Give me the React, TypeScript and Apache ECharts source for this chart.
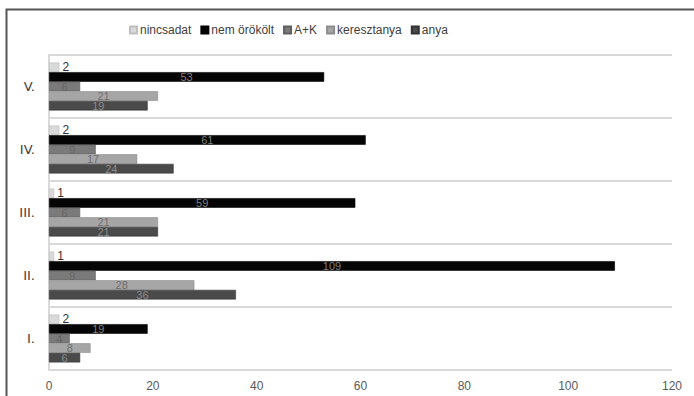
import React, { useEffect, useRef } from "react";
import * as echarts from "echarts";

const categories = ["I.", "II.", "III.", "IV.", "V."];
const xTicks = [0, 20, 40, 60, 80, 100, 120];
const nincsadat = [2, 1, 1, 2, 2];
const nemOrokolt = [19, 109, 59, 61, 53];
const aPlusK = [4, 9, 6, 9, 6];
const keresztanya = [8, 28, 21, 17, 21];
const anya = [6, 36, 21, 24, 19];

const legendOrder = ["nincsadat", "nem örökölt", "A+K", "keresztanya", "anya"];

export default function App() {
  const ref = useRef<HTMLDivElement>(null);
  useEffect(() => {
    if (!ref.current) return;
    const chart = echarts.init(ref.current, undefined, { renderer: "svg" });
    const font = "'Liberation Sans', Arial, sans-serif";
    const inside = (color: string) => ({
      show: true,
      position: "inside" as const,
      color,
      fontSize: 11,
      lineHeight: 9,
      fontFamily: font,
      textBorderWidth: 0,
      textBorderColor: "transparent",
    });
    const mk = (name: string, data: number[], color: string, border: string, label: any) => ({
      type: "bar" as const,
      name,
      data,
      barGap: "0%",
      barCategoryGap: "24%",
      itemStyle: { color, borderColor: border, borderWidth: 0.6 },
      label,
    });
    chart.setOption({
      animation: false,
      textStyle: { fontFamily: font },
      graphic: [
        {
          type: "rect",
          shape: { x: 6.5, y: 9.5, width: 900, height: 600 },
          style: { fill: "none", stroke: "#555", lineWidth: 2 },
          silent: true,
        },
      ],
      legend: {
        data: legendOrder,
        top: 19,
        left: 124,
        itemWidth: 7,
        itemHeight: 7,
        itemGap: 9,
        icon: "rect",
        textStyle: { color: "#404040", fontSize: 12, fontFamily: font, padding: [0, 0, 0, -2] },
      },
      grid: { left: 49, right: 22, top: 55, bottom: 26 },
      xAxis: {
        type: "value",
        min: xTicks[0],
        max: xTicks[xTicks.length - 1],
        interval: 20,
        axisLine: { show: false },
        axisTick: { show: false },
        splitLine: { show: false },
        axisLabel: { color: "#595959", fontSize: 12, fontFamily: font, margin: 10 },
      },
      yAxis: {
        type: "category",
        data: categories,
        axisLine: { show: true, lineStyle: { color: "#d9d9d9", width: 2 } },
        axisTick: { show: false },
        splitLine: { show: true, lineStyle: { color: "#d9d9d9", width: 2 } },
        axisLabel: {
          color: "#404040",
          fontSize: 13,
          fontFamily: "'DejaVu Sans', Verdana, sans-serif",
          margin: 14,
        },
      },
      series: [
        mk("nincsadat", nincsadat, "#d9d9d9", "#bfbfbf", {
          show: true,
          position: "right",
          distance: 3,
          color: "#333",
          fontSize: 12,
          lineHeight: 9,
          fontFamily: font,
          textBorderWidth: 0,
        }),
        mk("nem örökölt", nemOrokolt, "#050505", "#000", inside("#7f7f7f")),
        mk("A+K", aPlusK, "#7a7a7a", "#5f5f5f", inside("#666666")),
        mk("keresztanya", keresztanya, "#a6a6a6", "#8c8c8c", inside("#6e6e6e")),
        mk("anya", anya, "#4a4a4a", "#333", inside("#8a8a8a")),
      ],
    });
    return () => chart.dispose();
  }, []);
  return (
    <div
      ref={ref}
      style={{ position: "fixed", left: 0, top: 0, width: 694, height: 396, background: "#fff" }}
    />
  );
}
